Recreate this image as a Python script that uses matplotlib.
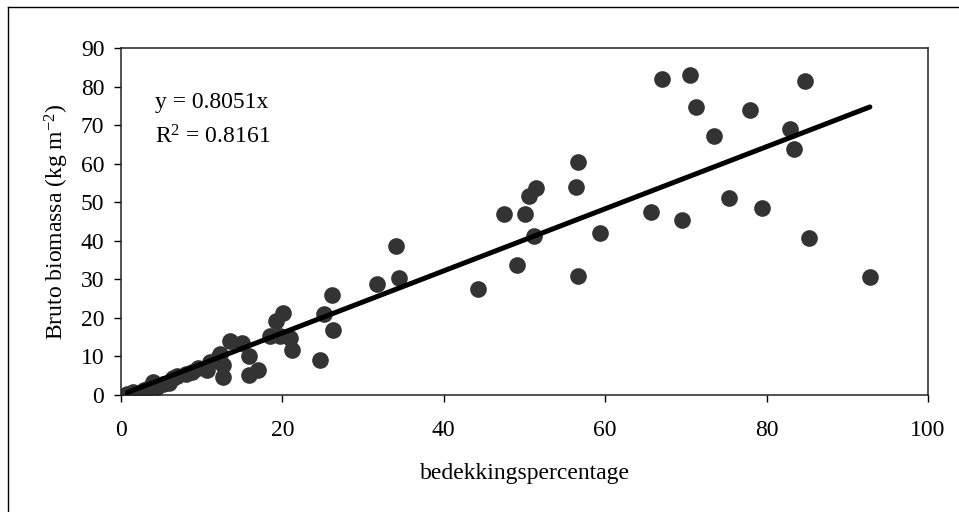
import numpy as np
import matplotlib
matplotlib.use('Agg')
import matplotlib.pyplot as plt
from matplotlib.lines import Line2D

plt.rcParams['font.family'] = ['Liberation Serif', 'DejaVu Serif']
plt.rcParams['mathtext.fontset'] = 'custom'
plt.rcParams['mathtext.rm'] = 'Liberation Serif'
plt.rcParams['mathtext.default'] = 'regular'

# data
cover = [67.0, 70.5, 71.2, 84.8, 78.0, 73.5, 82.9, 83.4, 65.7, 69.5, 75.4, 79.4, 85.3, 92.8,
         56.6, 56.4, 51.4, 50.5, 47.5, 50.1, 51.2, 59.4, 49.1, 56.6, 44.2, 34.1, 34.5, 31.7,
         26.1, 25.1, 26.3, 24.6, 20.1, 19.2, 19.7, 18.5, 20.9, 21.2, 13.5, 15.0, 15.8, 12.3,
         12.7, 12.7, 15.8, 17.0, 11.0, 10.6,
         0.8, 1.5, 2.2, 2.8, 3.5, 4.0, 4.5, 5.2, 6.0, 6.5, 7.0, 8.0, 8.8, 9.5, 12.0]
biomass = [82.0, 83.0, 74.6, 81.5, 74.0, 67.2, 68.9, 63.7, 47.5, 45.5, 51.0, 48.6, 40.6, 30.7,
           60.4, 53.9, 53.7, 51.5, 47.0, 47.0, 41.2, 42.1, 33.7, 30.8, 27.4, 38.6, 30.3, 28.8,
           25.9, 21.0, 16.9, 9.1, 21.3, 19.2, 15.3, 15.3, 14.9, 11.7, 14.0, 13.6, 10.1, 10.7,
           7.7, 4.7, 5.2, 6.5, 8.6, 6.5,
           0.3, 0.8, 0.5, 1.2, 1.8, 3.5, 2.2, 2.8, 3.2, 4.5, 5.0, 5.5, 6.0, 7.0, 9.5]
slope = 0.8051
r2 = 0.8161

x_ticks = [0, 20, 40, 60, 80, 100]
y_ticks = [0, 10, 20, 30, 40, 50, 60, 70, 80, 90]

fs = 17

fig = plt.figure(figsize=(9.59, 5.12), dpi=100)
ax = fig.add_axes([121/959, 1-395/512, 807/959, 347/512])

ax.plot(cover, biomass, 'o', color='#333333', markersize=12, markeredgecolor='none', zorder=2)
xs = np.array([min(cover), max(cover)])
ax.plot(xs, slope*xs, color='black', linewidth=3.6, solid_capstyle='round', zorder=3)

ax.set_xlim(0, 100)
ax.set_ylim(0, 90)
ax.set_xticks(x_ticks)
ax.set_yticks(y_ticks)
ax.tick_params(axis='both', direction='out', length=5, width=1, labelsize=fs, colors='black')
ax.tick_params(axis='x', pad=13)
ax.tick_params(axis='y', pad=7)
for s in ax.spines.values():
    s.set_linewidth(1.1)
    s.set_color('#222222')

ax.set_xlabel('bedekkingspercentage', fontsize=fs)
ax.xaxis.set_label_coords(0.5, -0.195)
ax.set_ylabel('Bruto biomassa (kg m$^{-2}$)', fontsize=fs)
ax.yaxis.set_label_coords(-0.062, 0.5)

ax.text(0.042, 0.827, 'y = %.4fx' % slope, transform=ax.transAxes, fontsize=fs, va='baseline')
ax.text(0.042, 0.726, 'R$^2$ = %.4f' % r2, transform=ax.transAxes, fontsize=fs, va='baseline')

# outer chart frame (only left and top edges visible)
fig.add_artist(Line2D([8/959, 8/959], [0, 1-7/512], transform=fig.transFigure, color='black', lw=1))
fig.add_artist(Line2D([8/959, 1], [1-7/512, 1-7/512], transform=fig.transFigure, color='black', lw=1))

fig.savefig('out.png', dpi=100)
